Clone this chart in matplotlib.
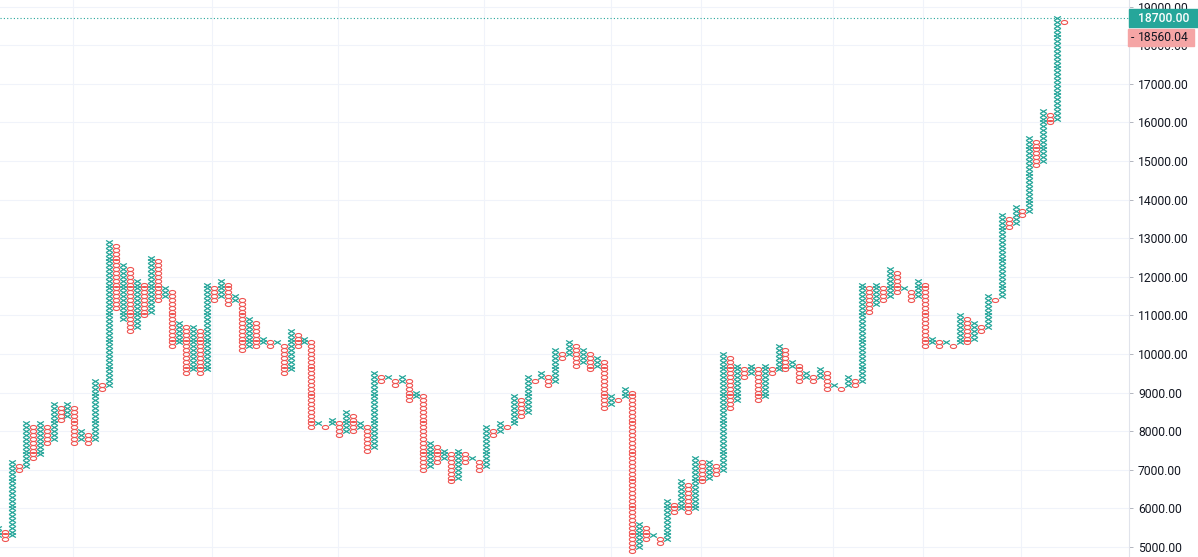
import numpy as np
import matplotlib
matplotlib.use("Agg")
import matplotlib.pyplot as plt
from matplotlib.path import Path
from matplotlib.patches import Rectangle

plt.rcParams['font.family'] = ['Roboto', 'DejaVu Sans']

# point & figure columns, box size 100; even columns are X, odd ones are O
box = 100
col_low = [5300, 5200, 5300, 7000, 7100, 7300, 7400, 7700, 7800, 8300,
           8400, 7700, 7800, 7700, 7800, 9100, 9200, 11200, 10900, 10600,
           10700, 11000, 11100, 11400, 11500, 10200, 10300, 9500, 9600, 9500,
           9600, 11400, 11500, 11300, 11400, 10100, 10200, 10200, 10300, 10200,
           10300, 9500, 9600, 10200, 10300, 8100, 8200, 8100, 8200, 7900,
           8000, 8000, 8100, 7500, 7600, 9300, 9400, 9200, 9300, 8800,
           8900, 7000, 7100, 7200, 7300, 6700, 6800, 7200, 7300, 7000,
           7100, 7900, 8000, 8100, 8200, 8400, 8500, 9300, 9400, 9200,
           9300, 9900, 10000, 9700, 9800, 9600, 9700, 8600, 8700, 8800,
           8900, 4900, 5000, 5200, 5300, 5100, 5200, 5900, 6000, 5900,
           6000, 6700, 6800, 6900, 7000, 8600, 8800, 9400, 9500, 8800,
           8900, 9500, 9600, 9600, 9700, 9300, 9400, 9300, 9400, 9100,
           9200, 9100, 9200, 9200, 9300, 11100, 11300, 11400, 11500, 11600,
           11700, 11400, 11500, 10200, 10300, 10200, 10300, 10200, 10300, 10300,
           10400, 10600, 10700, 11400, 11500, 13300, 13400, 13600, 13700, 14900,
           15000, 16000, 16100, 18600]
col_high = [5500, 5400, 7200, 7100, 8200, 8100, 8200, 8100, 8700, 8600,
            8700, 8600, 8000, 7900, 9300, 9200, 12900, 12800, 12300, 12200,
            11900, 11800, 12500, 12400, 11700, 11600, 10800, 10700, 10700, 10600,
            11800, 11700, 11900, 11800, 11500, 11400, 10900, 10800, 10400, 10300,
            10300, 10200, 10600, 10500, 10400, 10300, 8200, 8100, 8300, 8200,
            8500, 8400, 8200, 8100, 9500, 9400, 9400, 9300, 9400, 9300,
            9000, 8900, 7700, 7600, 7500, 7400, 7500, 7400, 7300, 7200,
            8100, 8000, 8200, 8100, 8900, 8800, 9400, 9300, 9500, 9400,
            10100, 10000, 10300, 10200, 10100, 10000, 9900, 9800, 8900, 8800,
            9100, 9000, 5600, 5500, 5300, 5200, 6200, 6100, 6700, 6600,
            7300, 7200, 7200, 7100, 10000, 9900, 9700, 9600, 9700, 9600,
            9700, 9600, 10200, 10100, 9800, 9700, 9500, 9400, 9600, 9500,
            9200, 9100, 9400, 9300, 11800, 11700, 11800, 11700, 12200, 12100,
            11700, 11600, 11900, 11800, 10400, 10300, 10300, 10200, 11000, 10900,
            10800, 10700, 11500, 11400, 13600, 13500, 13800, 13700, 15600, 15500,
            16300, 16200, 18700, 18600]

month_lines = [10.8, 30.7, 48.8, 69.8, 88.0, 100.9, 119.8, 132.7, 146.8]
price_ticks = list(range(5000, 19001, 1000))
last_box = 18700
last_price = 18560.04

teal = '#26a69a'
red = '#ef5350'

# flat X and O shapes so that they stack like boxes
x_marker = Path([(-1, -0.6), (1, 0.6), (-1, 0.6), (1, -0.6)],
                [Path.MOVETO, Path.LINETO, Path.MOVETO, Path.LINETO])
t = np.linspace(0, 2 * np.pi, 41)
o_marker = Path(np.column_stack([np.cos(t), 0.64 * np.sin(t)]))

xs_x, ys_x, xs_o, ys_o = [], [], [], []
for k in range(len(col_low)):
    levels = np.arange(col_low[k], col_high[k] + 1, box)
    if k % 2 == 0:
        xs_x += [k] * len(levels)
        ys_x += list(levels)
    else:
        xs_o += [k] * len(levels)
        ys_o += list(levels)

fig = plt.figure(figsize=(11.98, 5.57), dpi=100)
ax = fig.add_axes([0, 0, 1129 / 1198, 1])

ax.plot(xs_x, ys_x, ls='none', marker=x_marker, ms=4.9, mec=teal, mfc='none', mew=0.9)
ax.plot(xs_o, ys_o, ls='none', marker=o_marker, ms=4.5, mec=red, mfc='none', mew=0.8)

ax.axhline(last_box, color=teal, lw=0.8, ls=(0, (1, 2)))

ax.set_xlim(0.32, 162.28)
ax.set_ylim(4741, 19171)

ax.set_xticks(month_lines)
ax.set_xticklabels([])
ax.set_yticks(price_ticks)
ax.set_yticklabels(['%.2f' % p for p in price_ticks])
ax.yaxis.tick_right()
ax.tick_params(axis='x', length=0)
ax.tick_params(axis='y', length=3, width=0.7, color='#b2b5be', pad=3.5,
               labelsize=8.7, labelcolor='#131722')
ax.grid(color='#f0f3fa', lw=0.8)
ax.set_axisbelow(True)
for s in ['top', 'left', 'bottom']:
    ax.spines[s].set_visible(False)
ax.spines['right'].set_color('#e0e3eb')
ax.spines['right'].set_linewidth(0.8)

H = 557.0
W = 1198.0
# last value labels on the price axis
fig.patches.append(Rectangle((1129 / W, 1 - 26.7 / H), 69 / W, 17.4 / H,
                             transform=fig.transFigure, color=teal, zorder=5))
fig.text(1138 / W, 1 - 18.2 / H, '%.2f' % last_box, color='white', fontsize=8.7,
         fontweight='medium', va='center', ha='left', zorder=6)
fig.patches.append(Rectangle((1128 / W, 1 - 46 / H), 66 / W, 17 / H,
                             transform=fig.transFigure, color='#f5a5a5', zorder=5))
fig.text(1131 / W, 1 - 37.5 / H, '-', color='#131722', fontsize=8.7,
         va='center', ha='left', zorder=6)
fig.text(1138 / W, 1 - 37.5 / H, '%.2f' % last_price, color='#131722', fontsize=8.7,
         va='center', ha='left', zorder=6)

fig.savefig('out.png', dpi=100)
